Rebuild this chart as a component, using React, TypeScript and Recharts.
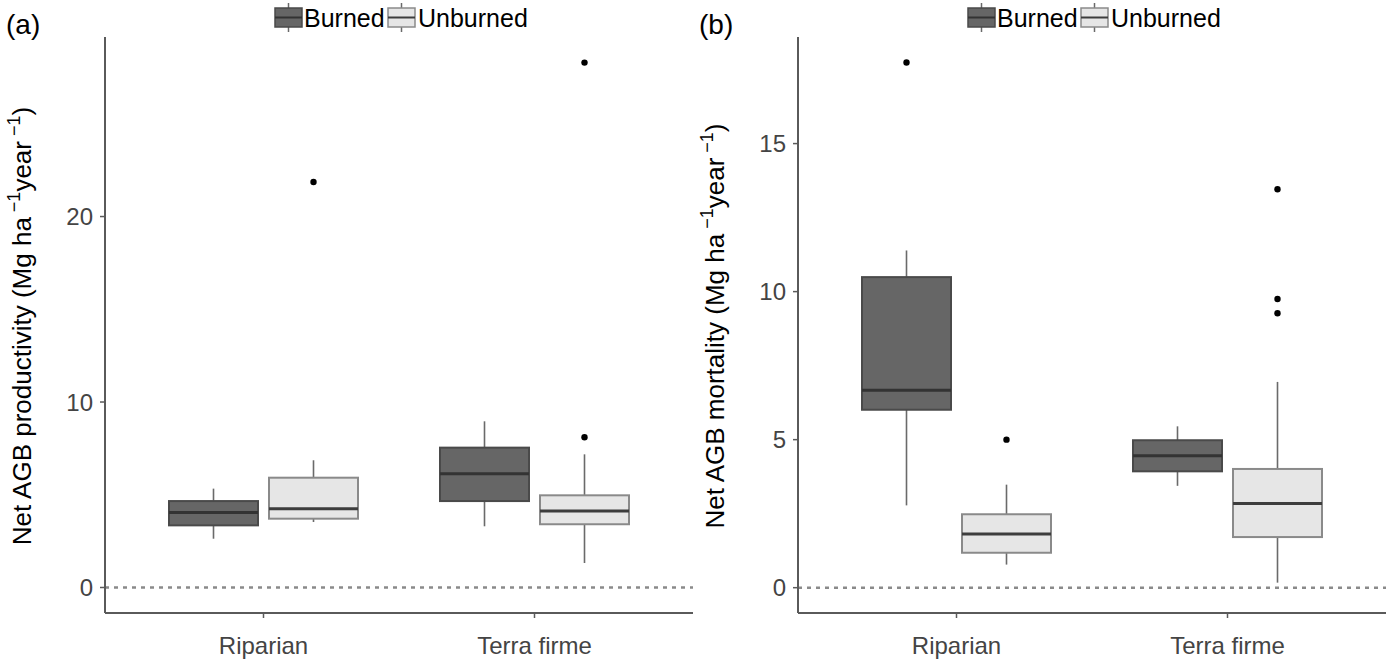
import React from 'react';
import { ComposedChart, Bar, XAxis, YAxis, ReferenceLine, Customized } from 'recharts';

// ---------- data ----------
const categories = ['Riparian', 'Terra firme'];

// [whiskerLow, Q1, median, Q3, whiskerHigh] per category
const prodBurned = [
  [2.63, 3.35, 4.05, 4.66, 5.33],
  [3.3, 4.66, 6.13, 7.54, 8.96],
];
const prodUnburned = [
  [3.53, 3.71, 4.25, 5.92, 6.86],
  [1.32, 3.41, 4.12, 4.97, 7.18],
];
const prodBurnedOut = [[], []];
const prodUnburnedOut = [[21.86], [8.1, 28.3]];

const mortBurned = [
  [2.78, 6.01, 6.67, 10.49, 11.39],
  [3.44, 3.93, 4.46, 4.98, 5.45],
];
const mortUnburned = [
  [0.78, 1.18, 1.81, 2.48, 3.48],
  [0.17, 1.71, 2.84, 4.01, 6.95],
];
const mortBurnedOut = [[17.74], []];
const mortUnburnedOut = [[5.0], [13.46, 9.75, 9.27]];

const prodTicks = [0, 10, 20];
const mortTicks = [0, 5, 10, 15];
const prodDomain: [number, number] = [-1.375, 29.68];
const mortDomain: [number, number] = [-0.855, 18.6];

const groups = ['Burned', 'Unburned'];

// ---------- styles ----------
const FONT = '"Liberation Sans", Arial, Helvetica, sans-serif';
const AXIS = '#5a5a5a';
const STYLE: Record<string, { fill: string; stroke: string; median: string }> = {
  Burned: { fill: '#666666', stroke: '#4a4a4a', median: '#333333' },
  Unburned: { fill: '#e6e6e6', stroke: '#8a8a8a', median: '#3d3d3d' },
};

function buildData(b: number[][], u: number[][], bo: number[][], uo: number[][]) {
  return categories.map((cat, i) => ({
    cat,
    Burned: [b[i][1], b[i][3]],
    Unburned: [u[i][1], u[i][3]],
    BurnedStats: { s: b[i], out: bo[i] },
    UnburnedStats: { s: u[i], out: uo[i] },
  }));
}

const makeBoxShape = (group: string) => (props: any) => {
  const { x, y, width, height, payload } = props;
  const st = payload[group + 'Stats'];
  const [lo, q1, med, q3, hi] = st.s;
  const top = Math.min(y, y + height);
  const h = Math.abs(height);
  const k = h / (q3 - q1);
  const py = (v: number) => top + (q3 - v) * k;
  const cx = x + width / 2;
  const c = STYLE[group];
  return (
    <g>
      <line x1={cx} x2={cx} y1={py(hi)} y2={py(q3)} stroke="#6a6a6a" strokeWidth={1.6} />
      <line x1={cx} x2={cx} y1={py(q1)} y2={py(lo)} stroke="#6a6a6a" strokeWidth={1.6} />
      <rect x={x} y={top} width={width} height={h} fill={c.fill} stroke={c.stroke} strokeWidth={2} />
      <line x1={x} x2={x + width} y1={py(med)} y2={py(med)} stroke={c.median} strokeWidth={3} />
      {st.out.map((v: number, j: number) => (
        <circle key={j} cx={cx} cy={py(v)} r={3.2} fill="#000" />
      ))}
    </g>
  );
};

const LegendKey = ({ x, group }: { x: number; group: string }) => {
  const c = STYLE[group];
  const cx = x + 13.5;
  return (
    <g>
      <line x1={cx} x2={cx} y1={3} y2={32} stroke="#6a6a6a" strokeWidth={1.5} />
      <rect x={x} y={8} width={27} height={19} fill={c.fill} stroke={c.stroke} strokeWidth={1.5} />
      <line x1={x} x2={x + 27} y1={17.5} y2={17.5} stroke={c.median} strokeWidth={2} />
    </g>
  );
};

const Overlay = ({ tag, titleMain }: { tag: string; titleMain: string }) => (
  <g fontFamily={FONT}>
    <text x={6} y={34} fontSize={28} fill="#000">{tag}</text>
    <LegendKey x={275} group="Burned" />
    <text x={304} y={27} fontSize={25} fill="#000">Burned</text>
    <LegendKey x={388} group="Unburned" />
    <text x={418} y={27} fontSize={25} fill="#000">Unburned</text>
    <text transform="translate(31,326) rotate(-90)" textAnchor="middle" fontSize={26} fill="#000">
      {titleMain}
      <tspan dy={-11} fontSize={18}> −1</tspan>
      <tspan dy={11}>year</tspan>
      <tspan dy={-11} fontSize={18}> −1</tspan>
      <tspan dy={11}>)</tspan>
    </text>
  </g>
);

const Panel = ({ data, domain, ticks, tag, titleMain }: any) => (
  <ComposedChart
    width={693}
    height={664}
    data={data}
    margin={{ top: 37, right: 0, bottom: 0, left: 0 }}
    barSize={89}
    barGap={11}
  >
    <XAxis
      dataKey="cat"
      type="category"
      interval={0}
      height={51}
      padding={{ left: 23, right: 23 }}
      axisLine={{ stroke: AXIS, strokeWidth: 2 }}
      tickLine={{ stroke: AXIS, strokeWidth: 1.5 }}
      tickSize={5}
      tickMargin={19}
      tick={{ fontSize: 24, fill: '#444444', fontFamily: FONT }}
    />
    <YAxis
      type="number"
      domain={domain}
      ticks={ticks}
      allowDataOverflow
      width={105}
      axisLine={{ stroke: AXIS, strokeWidth: 2 }}
      tickLine={{ stroke: AXIS, strokeWidth: 1.5 }}
      tickSize={5}
      tickMargin={7}
      tick={{ fontSize: 24, fill: '#444444', fontFamily: FONT }}
    />
    <ReferenceLine y={0} stroke="#8a8a8a" strokeWidth={2.5} strokeDasharray="4 5" />
    {groups.map((g) => (
      <Bar key={g} dataKey={g} isAnimationActive={false} shape={makeBoxShape(g)} />
    ))}
    <Customized component={() => <Overlay tag={tag} titleMain={titleMain} />} />
  </ComposedChart>
);

export default function App() {
  const prodData = buildData(prodBurned, prodUnburned, prodBurnedOut, prodUnburnedOut);
  const mortData = buildData(mortBurned, mortUnburned, mortBurnedOut, mortUnburnedOut);
  return (
    <div style={{ position: 'absolute', left: 0, top: 0, width: 1386, height: 664, display: 'flex', background: '#fff' }}>
      <Panel data={prodData} domain={prodDomain} ticks={prodTicks} tag="(a)" titleMain="Net AGB productivity (Mg ha" />
      <Panel data={mortData} domain={mortDomain} ticks={mortTicks} tag="(b)" titleMain="Net AGB mortality (Mg ha" />
    </div>
  );
}
